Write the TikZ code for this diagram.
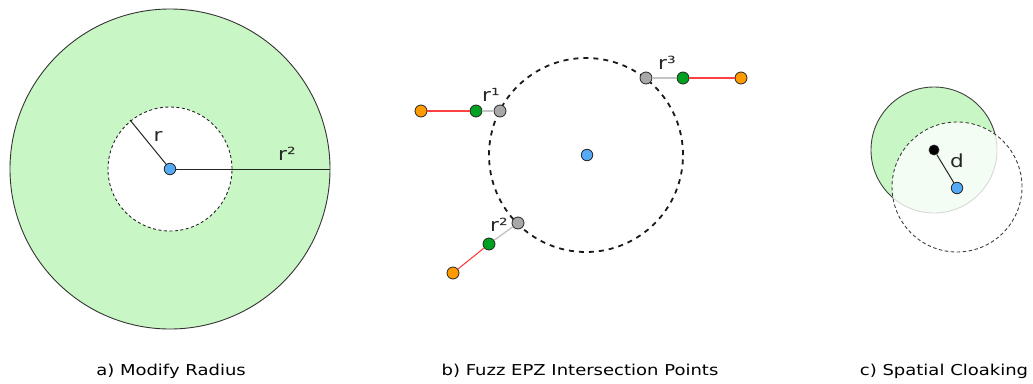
\documentclass[tikz,border=0pt]{standalone}
\usepackage{fontspec}
\setmainfont[FakeStretch=1.2]{DejaVu Sans}
\definecolor{zonegreen}{HTML}{C8F7C5}
\definecolor{ptblue}{HTML}{55AAF5}
\definecolor{ptorange}{HTML}{FF9A00}
\definecolor{ptgreen}{HTML}{00A020}
\definecolor{ptgray}{HTML}{A8A8A8}
\definecolor{fuzzred}{HTML}{FF4040}
\definecolor{fuzzgray}{HTML}{C4C4C4}
\begin{document}
\begin{tikzpicture}[x=1pt,y=-1pt,
  dot/.style={circle,draw=black!85,line width=0.8pt,minimum size=12pt,inner sep=0pt},
  bluedot/.style={dot,fill=ptblue,minimum size=11.5pt},
  orangedot/.style={dot,fill=ptorange},
  greendot/.style={dot,fill=ptgreen},
  graydot/.style={dot,fill=ptgray},
  blackdot/.style={dot,fill=black,minimum size=10pt},
  lbl/.style={font=\fontsize{18}{20}\selectfont,text=black!85,inner sep=0pt},
  caption/.style={font=\fontsize{15}{18}\selectfont,text=black,inner sep=0pt},
  redlink/.style={draw=fuzzred,line width=1.1pt},
  graylink/.style={draw=fuzzgray,line width=1.4pt},
  radline/.style={draw=black!85,line width=1pt}]
\useasboundingbox (0,0) rectangle (1033,383);

% ---------- a) Modify Radius ----------
\fill[zonegreen,draw=black!80,line width=0.9pt] (170,169) circle[radius=160pt];
\fill[white,draw=black!85,line width=0.9pt,dash pattern=on 3pt off 2.5pt] (170,169) circle[radius=62pt];
\node[bluedot] (ca) at (170,169) {};
\coordinate (ra) at (130,120);
\coordinate (r2a) at (330,169);
\draw[radline] (ca) -- (ra);
\draw[radline] (ca) -- (r2a);
\node[lbl] (lr) at (158,136) {r};
\node[lbl] (lr2) at (287,154) {r²};
\node[caption] (capa) at (171,371) {a) Modify Radius};

% ---------- b) Fuzz EPZ Intersection Points ----------
\draw[black!90,line width=1.8pt,dash pattern=on 5pt off 5pt] (586,155) circle[radius=97pt];
\node[bluedot] (cb) at (587,155) {};
% first intersection
\node[orangedot] (o1) at (421,111) {};
\node[greendot] (g1) at (476,111) {};
\node[graydot] (x1) at (500,111) {};
\draw[redlink] (o1) -- (g1);
\draw[graylink] (g1) -- (x1);
\node[lbl] (l1) at (491,95) {r¹};
% second intersection
\node[orangedot] (o2) at (453,273) {};
\node[greendot] (g2) at (489,244) {};
\node[graydot] (x2) at (518,223) {};
\draw[redlink] (o2) -- (g2);
\draw[graylink] (g2) -- (x2);
\node[lbl] (l2) at (499,225) {r²};
% third intersection
\node[graydot] (x3) at (646,78) {};
\node[greendot] (g3) at (683,78) {};
\node[orangedot] (o3) at (741,78) {};
\draw[graylink] (x3) -- (g3);
\draw[redlink] (g3) -- (o3);
\node[lbl] (l3) at (667,63) {r³};
\node[caption] (capb) at (580,371) {b) Fuzz EPZ Intersection Points};

% ---------- c) Spatial Cloaking ----------
\fill[zonegreen,draw=black!75,line width=0.9pt] (934,150) circle[radius=63pt];
\fill[white,fill opacity=0.8,draw=black!75,line width=0.9pt,dash pattern=on 3.5pt off 2.5pt] (957,187) circle[radius=65pt];
\node[blackdot] (pc) at (934,150) {};
\node[bluedot] (cc) at (957,188) {};
\draw[radline] (pc) -- (cc);
\node[lbl] (ld) at (957,161) {d};
\node[caption] (capc) at (944,371) {c) Spatial Cloaking};
\end{tikzpicture}
\end{document}
